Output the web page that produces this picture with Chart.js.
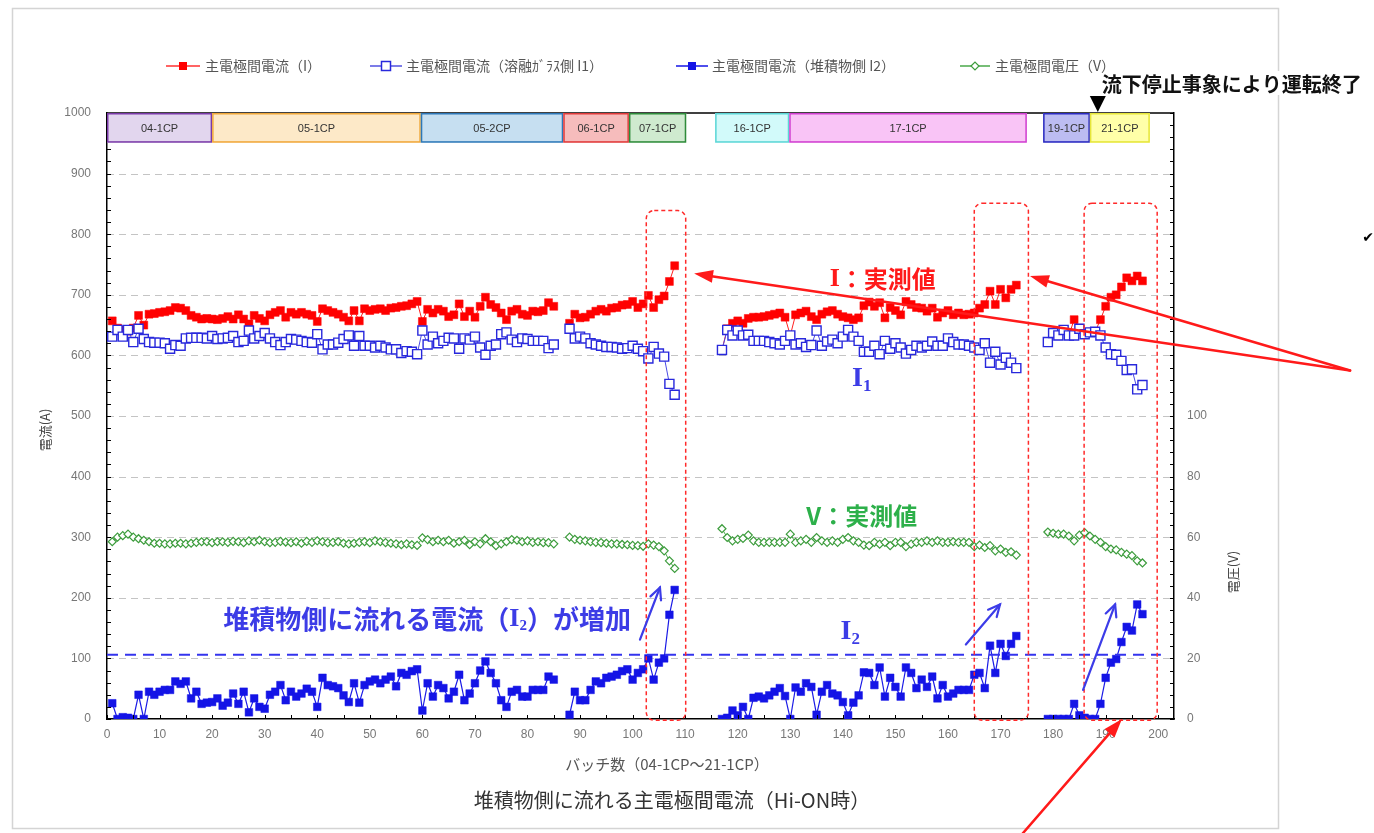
<!DOCTYPE html>
<html><head><meta charset="utf-8">
<script src="https://cdn.jsdelivr.net/npm/chart.js@4/dist/chart.umd.min.js"></script>
<style>html,body{margin:0;padding:0;background:#fff;}canvas{display:block;}</style>
</head><body>
<canvas id="c" width="1374" height="833" style="width:1374px;height:833px"></canvas>
<script>
// ---- categories: batch numbers are given as continuous segments (gaps between campaigns)
const segments = [[1,85],[88,108],[117,173],[179,197]];

// ---- series values
const currentI = [
 657,645,642,640,645,666,650,668,669,671, 672,674,679,678,674,666,663,660,661,660,
 659,661,664,660,667,660,652,666,661,657, 667,671,674,663,671,668,671,668,666,656,
 677,674,671,668,663,657,674,657,677,674, 676,677,674,678,679,681,682,685,689,656,
 676,670,676,673,664,667,685,664,673,663, 681,696,684,679,670,659,673,676,668,666,
 673,672,674,687,681,
 653,668,662,663,668,673,676,673,678,679, 683,684,689,679,685,699,679,692,698,722,748,
 609,644,653,657,653,661,663,663,664,666, 668,670,663,633,667,670,673,664,659,668,
 672,674,668,664,662,659,662,682,688,681, 687,662,679,674,667,689,684,679,678,673,
 678,663,670,674,667,670,667,668,670,678, 684,706,684,709,695,709,716,
 622,637,633,642,633,659,645,637,638,639, 659,681,696,700,713,728,723,731,723
];
const currentI1 = [
 631,642,631,642,622,644,627,622,621,621, 620,611,617,616,628,629,629,629,628,632,
 627,628,629,632,622,624,641,628,632,637, 628,622,617,622,627,626,624,622,621,635,
 610,618,618,621,627,633,616,632,616,616, 613,616,613,610,610,604,607,606,602,641,
 618,631,620,624,629,628,611,628,626,631, 613,601,616,618,635,638,626,622,628,627,
 624,624,624,612,618,
 644,628,631,628,620,618,616,614,614,613, 611,612,616,611,607,595,614,603,598,553,535,
 609,642,633,641,633,634,624,624,624,622, 620,618,624,633,618,620,614,617,641,616,
 623,626,620,631,642,631,624,606,606,616, 602,624,611,620,613,603,609,616,613,616,
 623,616,616,628,622,618,618,616,613,609, 620,588,606,585,596,588,579,
 622,637,633,642,633,633,644,635,638,639, 633,613,602,601,591,576,577,544,551
];
const currentI2 = [
 26,0,3,2,0,40,0,45,40,45, 48,48,62,58,62,34,45,25,27,28,
 34,22,27,42,25,45,11,34,20,17, 40,45,56,31,45,37,42,50,45,20,
 68,56,54,51,39,28,59,27,56,62, 65,59,65,70,54,76,73,79,82,14,
 59,37,56,51,34,45,73,31,42,59, 80,95,76,59,31,20,45,48,37,37,
 48,48,48,70,65,
 7,45,31,31,48,62,59,68,70,73, 79,82,65,76,82,100,65,93,100,172,213,
 0,2,14,6,20,0,35,37,34,39, 45,51,38,0,52,45,59,53,7,45,
 56,42,39,28,6,27,39,77,76,56, 85,37,68,53,37,85,76,51,65,53,
 70,34,56,37,42,48,48,48,73,76, 51,121,76,124,104,124,137,
 0,0,0,0,0,25,6,2,0,0, 25,68,93,99,127,152,146,189,173
];
const voltageV = [
 58.5,60,60.5,61,60,59.5,59,58.5,58,58, 57.8,57.8,58,58,57.8,58,58.3,58.5,58.5,58.2,
 58.5,58.5,58.3,58.6,58.5,58.2,58.8,58.5,59,58.5, 58.2,58.3,58.6,58.4,58.2,58.5,58,58.6,58.3,58.8,
 58.5,58.2,58.3,58.5,58,57.8,58,58.3,58.5,58.2, 58.8,58.5,58.2,58,57.8,57.5,57.8,57.5,57.3,59.8,
 59.2,58.5,59,58.5,59,58,58.5,59,57.5,58.5, 57.8,59.5,58.5,57.2,57.8,58.5,59.2,59,58.5,58.8,
 58.3,58.5,58.2,58.2,57.8,
 60,59.3,59,58.8,58.5,58.3,58.2,58,57.8,57.8, 57.6,57.5,57.3,57.2,57,57.8,57.4,56.9,55.5,52.2,49.7,
 62.8,59.9,58.8,59.3,59.6,60.7,58.8,58.3,58.3,58.3, 58.3,58.3,58.3,61,58.3,58.8,59.3,58.3,59.9,58.8,
 58.3,58.8,58.3,59.3,59.9,58.8,58.3,57.4,57.2,58.3, 57.7,58.3,57.2,58.3,58.3,56.9,57.7,58.3,58.3,58.8,
 58.3,58.8,58.3,58.3,58.5,58.3,58.3,58.3,56.9,57.4, 56.6,57.2,55.5,56.1,55,55.2,54.1,
 61.7,61.3,61,61,60.4,58.8,60.7,61.5,60.4,59.3, 58.3,56.9,56.1,55.8,55,54.4,53.9,52.2,51.5
];

// ---- campaign bands on top of the plot (batch ranges)
const bandLabels = ['04-1CP','05-1CP','05-2CP','06-1CP','07-1CP','16-1CP','17-1CP','19-1CP','21-1CP'];
const bandStart  = [0, 20.0, 59.7, 86.8, 99.3, 115.7, 129.8, 178.1, 187.0];
const bandEnd    = [20.0, 59.7, 86.8, 99.3, 110.2, 129.8, 175.0, 187.0, 198.4];
const bandFill   = ['#e2d6ee','#fde9c8','#c6dff1','#f6bcbc','#cfeacf','#d2fafa','#f9c4f6','#bcbcf2','#ffffa8'];
const bandLine   = ['#7a3aa8','#f0a83a','#2e78b8','#e03a3a','#2e8b3a','#5cd6d6','#d040d0','#2a2ac0','#e6e63a'];

const legendLabels = ['主電極間電流（I）','主電極間電流（溶融ｶﾞﾗｽ側 I1）','主電極間電流（堆積物側 I2）','主電極間電圧（V）'];
const xTickValues = [0,10,20,30,40,50,60,70,80,90,100,110,120,130,140,150,160,170,180,190,200];

// annotation geometry in data units
const markBoxes = [[102.6,110.1,839],[165.0,175.3,851],[185.9,199.8,851]];
const thresholdI2 = 106;
const stopBatch = 188.5;

// ---- build point lists with line breaks between segments
function buildPoints(values){
  const pts=[]; let k=0;
  segments.forEach((s,i)=>{
    if(i>0) pts.push({x:(segments[i-1][1]+s[0])/2, y:null});
    for(let b=s[0]; b<=s[1]; b++) pts.push({x:b, y:values[k++]});
  });
  return pts;
}

const FONT_JP = '"Noto Sans CJK JP","Noto Sans",sans-serif';
const FONT_SERIF = '"Liberation Serif","DejaVu Serif",serif';

function rich(ctx, parts, x, y, align){
  let w=0;
  parts.forEach(p=>{ctx.font=p.f; p.w=ctx.measureText(p.t).width; w+=p.w;});
  let cx = align==='center'? x-w/2 : x;
  parts.forEach(p=>{ctx.font=p.f; ctx.fillStyle=p.c; ctx.textAlign='left'; ctx.textBaseline='middle'; ctx.fillText(p.t,cx,y+(p.dy||0)); cx+=p.w;});
}
function arrow(ctx,x0,y0,x1,y1,color,width,head,filled){
  const a=Math.atan2(y1-y0,x1-x0);
  ctx.save(); ctx.setLineDash([]); ctx.strokeStyle=color; ctx.fillStyle=color; ctx.lineWidth=width; ctx.lineCap='round';
  const ex = filled? x1-Math.cos(a)*head*0.8 : x1, ey = filled? y1-Math.sin(a)*head*0.8 : y1;
  ctx.beginPath(); ctx.moveTo(x0,y0); ctx.lineTo(ex,ey); ctx.stroke();
  const s=filled?0.33:0.45;
  ctx.beginPath();
  ctx.moveTo(x1+Math.cos(a+Math.PI-s)*head, y1+Math.sin(a+Math.PI-s)*head);
  ctx.lineTo(x1,y1);
  ctx.lineTo(x1+Math.cos(a+Math.PI+s)*head, y1+Math.sin(a+Math.PI+s)*head);
  if(filled){ctx.closePath(); ctx.fill();} else ctx.stroke();
  ctx.restore();
}
function roundRectPath(ctx,x,y,w,h,r){
  ctx.beginPath(); ctx.moveTo(x+r,y); ctx.lineTo(x+w-r,y); ctx.arcTo(x+w,y,x+w,y+r,r);
  ctx.lineTo(x+w,y+h-r); ctx.arcTo(x+w,y+h,x+w-r,y+h,r); ctx.lineTo(x+r,y+h); ctx.arcTo(x,y+h,x,y+h-r,r);
  ctx.lineTo(x,y+r); ctx.arcTo(x,y,x+r,y,r); ctx.closePath();
}
function marker(ctx,type,x,y){
  ctx.save(); ctx.setLineDash([]);
  if(type===0){ctx.fillStyle='#ff0000'; ctx.fillRect(x-4,y-4,8,8);}
  if(type===1){ctx.fillStyle='#fff'; ctx.strokeStyle='#2828dc'; ctx.lineWidth=1.5; ctx.fillRect(x-4.5,y-4.5,9,9); ctx.strokeRect(x-4.5,y-4.5,9,9);}
  if(type===2){ctx.fillStyle='#1414e6'; ctx.fillRect(x-4,y-4,8,8);}
  if(type===3){ctx.fillStyle='#fff'; ctx.strokeStyle='#3c9c3c'; ctx.lineWidth=1.2; ctx.beginPath(); ctx.moveTo(x-4,y); ctx.lineTo(x,y-4); ctx.lineTo(x+4,y); ctx.lineTo(x,y+4); ctx.closePath(); ctx.fill(); ctx.stroke();}
  ctx.restore();
}

const decor = {
  id:'decor',
  beforeDraw(chart){
    const ctx=chart.ctx; ctx.save();
    ctx.strokeStyle='#d4d4d4'; ctx.lineWidth=1.5; ctx.strokeRect(12.5,8.5,1266,820);
    ctx.restore();
  },
  beforeDatasetsDraw(chart){
    const ctx=chart.ctx, ca=chart.chartArea, xs=chart.scales.x, ys=chart.scales.y;
    ctx.save();
    ctx.strokeStyle='#c4c4c4'; ctx.lineWidth=1; ctx.setLineDash([7,5]);
    for(let v=100; v<1000; v+=100){const y=Math.round(ys.getPixelForValue(v))+0.5; ctx.beginPath(); ctx.moveTo(ca.left,y); ctx.lineTo(ca.right,y); ctx.stroke();}
    ctx.restore();
  },
  afterDatasetsDraw(chart){
    const ctx=chart.ctx, ca=chart.chartArea, xs=chart.scales.x, ys=chart.scales.y;
    const X=v=>xs.getPixelForValue(v), Y=v=>ys.getPixelForValue(v);
    ctx.save();
    // threshold line
    ctx.strokeStyle='#3434ee'; ctx.lineWidth=2; ctx.setLineDash([11,7]);
    ctx.beginPath(); ctx.moveTo(X(0),Y(thresholdI2)); ctx.lineTo(X(200.5),Y(thresholdI2)); ctx.stroke();
    ctx.setLineDash([]);
    // inward tick marks
    ctx.strokeStyle='#000'; ctx.lineWidth=1;
    for(let v=0; v<=1000; v+=20){const y=Math.round(Y(v))+0.5; ctx.beginPath(); ctx.moveTo(ca.left,y); ctx.lineTo(ca.left+4,y); ctx.stroke(); ctx.beginPath(); ctx.moveTo(ca.right,y); ctx.lineTo(ca.right-4,y); ctx.stroke();}
    for(let v=0; v<=200; v+=5){const x=Math.round(X(v))+0.5; ctx.beginPath(); ctx.moveTo(x,ca.bottom); ctx.lineTo(x,ca.bottom-4); ctx.stroke();}
    // top border
    ctx.lineWidth=1.5; ctx.beginPath(); ctx.moveTo(ca.left,ca.top); ctx.lineTo(ca.right,ca.top); ctx.stroke();
    // campaign bands
    bandLabels.forEach((lab,i)=>{
      const x0=X(bandStart[i]), x1=X(bandEnd[i]), y0=Y(1000), y1=Y(951);
      ctx.fillStyle=bandFill[i]; ctx.fillRect(x0,y0,x1-x0,y1-y0);
      ctx.strokeStyle=bandLine[i]; ctx.lineWidth=1.5; ctx.strokeRect(x0+0.75,y0+0.75,x1-x0-1.5,y1-y0-1.5);
      ctx.fillStyle='#333'; ctx.font='11px "Liberation Sans",sans-serif'; ctx.textAlign='center'; ctx.textBaseline='middle';
      ctx.fillText(lab,(x0+x1)/2,(y0+y1)/2+1);
    });
    // red dashed boxes
    ctx.strokeStyle='#ff2a2a'; ctx.lineWidth=1.5; ctx.setLineDash([4,3]);
    markBoxes.forEach(b=>{const x0=X(b[0]), x1=X(b[1]), y0=Y(b[2]), y1=Y(-2); roundRectPath(ctx,x0,y0,x1-x0,y1-y0,8); ctx.stroke();});
    ctx.setLineDash([]);
    // blue arrows
    [[101.4,131,105.2,217],[163.4,123,169.9,189],[185.7,48,191.8,189]].forEach(a=>arrow(ctx,X(a[0]),Y(a[1]),X(a[2]),Y(a[3]),'#3c3ce8',2.2,13,false));
    // red arrows
    arrow(ctx,X(236.5),Y(575),X(111.7),Y(735),'#ff1a1a',2.5,20,true);
    arrow(ctx,X(236.5),Y(575),X(175.6),Y(731),'#ff1a1a',2.5,20,true);
    arrow(ctx,X(173.7),Y(-194),X(193.1),Y(0),'#ff1a1a',2.5,20,true);
    // annotation texts
    const red='#ff1a1a', blue='#3c3ce6', green='#2db04a';
    rich(ctx,[{t:'I',f:'bold 26px '+FONT_SERIF,c:red},{t:'：実測値',f:'bold 24px '+FONT_JP,c:red}],X(147.6),Y(726),'center');
    rich(ctx,[{t:'V',f:'bold 24px '+FONT_JP,c:green},{t:'：実測値',f:'bold 24px '+FONT_JP,c:green}],X(143.6),Y(335),'center');
    rich(ctx,[{t:'I',f:'bold 28px '+FONT_SERIF,c:blue},{t:'1',f:'bold 17px '+FONT_SERIF,c:blue,dy:8}],X(143.6),Y(562),'center');
    rich(ctx,[{t:'I',f:'bold 28px '+FONT_SERIF,c:blue},{t:'2',f:'bold 17px '+FONT_SERIF,c:blue,dy:8}],X(141.4),Y(144),'center');
    rich(ctx,[{t:'堆積物側に流れる電流（',f:'bold 26px '+FONT_JP,c:blue},{t:'I',f:'bold 26px '+FONT_SERIF,c:blue},{t:'2',f:'bold 15px '+FONT_SERIF,c:blue,dy:7},{t:'）が増加',f:'bold 26px '+FONT_JP,c:blue}],X(60.9),Y(164),'center');
    // stop marker
    const tx=X(stopBatch);
    ctx.fillStyle='#000'; ctx.beginPath(); ctx.moveTo(tx-8,ca.top-17); ctx.lineTo(tx+8,ca.top-17); ctx.lineTo(tx,ca.top-1); ctx.closePath(); ctx.fill();
    ctx.font='bold 20px '+FONT_JP; const sw=ctx.measureText('流下停止事象により運転終了').width;
    ctx.fillStyle='#fff'; ctx.fillRect(tx+3,ca.top-42,sw+4,24);
    ctx.fillStyle='#111'; ctx.textAlign='left'; ctx.textBaseline='middle'; ctx.fillText('流下停止事象により運転終了',tx+4,ca.top-29);
    // legend
    const lg=[[166,200,205],[370,402,406],[676,708,712],[960,990,995]];
    const lc=['#ff3030','#5050e0','#1414e6','#4aa84a'];
    lg.forEach((p,i)=>{
      ctx.strokeStyle=lc[i]; ctx.lineWidth=1.5; ctx.beginPath(); ctx.moveTo(p[0],66); ctx.lineTo(p[1],66); ctx.stroke();
      marker(ctx,i,(p[0]+p[1])/2,66);
      ctx.fillStyle='#555'; ctx.font='14px '+FONT_JP; ctx.textAlign='left'; ctx.textBaseline='middle'; ctx.fillText(legendLabels[i],p[2],66);
    });
    // axis titles
    ctx.fillStyle='#444'; ctx.font='13px '+FONT_JP; ctx.textAlign='center'; ctx.textBaseline='middle';
    ctx.save(); ctx.translate(45,430); ctx.rotate(-Math.PI/2); ctx.fillText('電流(A)',0,0); ctx.restore();
    ctx.save(); ctx.translate(1233,572); ctx.rotate(-Math.PI/2); ctx.fillText('電圧(V)',0,0); ctx.restore();
    ctx.fillStyle='#555'; ctx.font='15px '+FONT_JP; ctx.fillText('バッチ数（04-1CP～21-1CP）',667,764);
    ctx.fillStyle='#333'; ctx.font='20px '+FONT_JP; ctx.fillText('堆積物側に流れる主電極間電流（Hi-ON時）',672,800);
    ctx.fillStyle='#000'; ctx.font='bold 14px "DejaVu Sans",sans-serif'; ctx.fillText('✔',1368,238);
    ctx.restore();
  }
};

const tickFont = {family:'"Liberation Sans",sans-serif', size:12};
new Chart(document.getElementById('c'), {
  type:'line',
  data:{datasets:[
    {label:legendLabels[0], data:buildPoints(currentI), yAxisID:'y', order:4,
     borderColor:'#ff2020', borderWidth:1, pointStyle:'rect', pointRadius:5.6,
     pointBackgroundColor:'#ff0000', pointBorderColor:'#ff0000', pointBorderWidth:0.5, spanGaps:false},
    {label:legendLabels[1], data:buildPoints(currentI1), yAxisID:'y', order:3,
     borderColor:'#4a4ae4', borderWidth:1, pointStyle:'rect', pointRadius:6.4,
     pointBackgroundColor:'#ffffff', pointBorderColor:'#2828dc', pointBorderWidth:1.4, spanGaps:false},
    {label:legendLabels[2], data:buildPoints(currentI2), yAxisID:'y', order:2,
     borderColor:'#1a1ae6', borderWidth:1.2, pointStyle:'rect', pointRadius:5.4,
     pointBackgroundColor:'#1414e6', pointBorderColor:'#1414e6', pointBorderWidth:0.5, spanGaps:false},
    {label:legendLabels[3], data:buildPoints(voltageV), yAxisID:'y1', order:1,
     borderColor:'#4aa84a', borderWidth:1, pointStyle:'rectRot', pointRadius:4,
     pointBackgroundColor:'#ffffff', pointBorderColor:'#3c9c3c', pointBorderWidth:1.2, spanGaps:false}
  ]},
  options:{
    responsive:false, animation:false, devicePixelRatio:1,
    layout:{padding:{top:113,left:0,right:0,bottom:0}},
    plugins:{legend:{display:false}, tooltip:{enabled:false}},
    elements:{line:{tension:0}},
    scales:{
      x:{type:'linear', min:0, max:203,
         ticks:{stepSize:10, autoSkip:false, maxRotation:0, color:'#777', font:tickFont, padding:8, callback:v=>String(v)},
         afterBuildTicks:s=>{s.ticks=xTickValues.map(v=>({value:v}));},
         grid:{display:false, drawTicks:false}, border:{color:'#000', width:1.5},
         afterFit:s=>{s.height=114;}},
      y:{type:'linear', position:'left', min:0, max:1000,
         ticks:{stepSize:100, color:'#777', font:tickFont, padding:16, callback:v=>String(v)},
         grid:{display:false, drawTicks:false}, border:{color:'#000', width:1.5},
         afterFit:s=>{s.width=107;}},
      y1:{type:'linear', position:'right', min:0, max:200,
         ticks:{stepSize:20, color:'#777', font:tickFont, padding:13, callback:v=> v<=100? String(v):''},
         grid:{display:false, drawTicks:false}, border:{color:'#000', width:1.5},
         afterFit:s=>{s.width=200;}}
    }
  },
  plugins:[decor]
});
</script>
</body></html>
